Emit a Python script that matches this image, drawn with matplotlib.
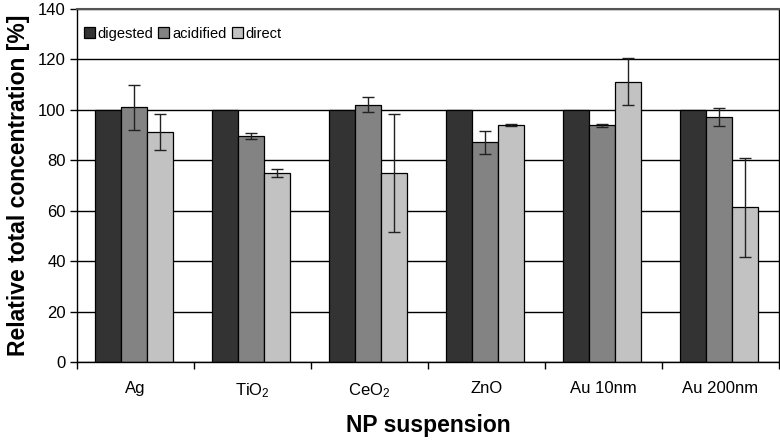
import matplotlib
matplotlib.use("Agg")
import matplotlib.pyplot as plt
import numpy as np

plt.rcParams['font.family'] = ['Liberation Sans', 'DejaVu Sans']
plt.rcParams['mathtext.fontset'] = 'custom'
plt.rcParams['mathtext.rm'] = 'Liberation Sans'
plt.rcParams['mathtext.it'] = 'Liberation Sans'

categories = ['Ag', 'TiO$_2$', 'CeO$_2$', 'ZnO', 'Au 10nm', 'Au 200nm']
series = ['digested', 'acidified', 'direct']
digested = [100, 100, 100, 100, 100, 100]
acidified = [101.0, 89.8, 102.0, 87.2, 93.8, 97.2]
direct = [91.2, 75.1, 75.0, 94.0, 111.2, 61.3]
digested_err = [0, 0, 0, 0, 0, 0]
acidified_err = [9.0, 1.2, 3.0, 4.6, 0.5, 3.6]
direct_err = [7.0, 1.6, 23.5, 0.5, 9.4, 19.6]
colors = ['#333333', '#838383', '#c2c2c2']

fig = plt.figure(figsize=(7.8, 4.4), dpi=100)
ax = fig.add_axes([77/780, 1-362/440, 702/780, 353/440])

x = np.arange(len(categories))
w = 0.222
vals = [digested, acidified, direct]
errs = [digested_err, acidified_err, direct_err]
for i, (v, e, c, s) in enumerate(zip(vals, errs, colors, series)):
    pos = x + (i - 1) * w - 0.015
    ax.bar(pos, v, width=w, color=c, edgecolor='black', linewidth=0.9, label=s, zorder=2)
    if i > 0:
        ax.errorbar(pos, v, yerr=e, fmt='none', ecolor='#222222', elinewidth=1.0,
                    capsize=4, capthick=1.0, zorder=3)

ax.set_xlim(-0.5, len(categories) - 0.5)
ax.set_ylim(0, 140)
ax.set_yticks(np.arange(0, 141, 20))
ax.yaxis.grid(True, color='black', linewidth=1.0, zorder=0)
ax.set_axisbelow(True)
ax.set_xticks(x)
ax.set_xticklabels(categories, fontsize=12)
ax.set_xticks(np.arange(-0.5, len(categories), 1), minor=True)
ax.tick_params(axis='x', which='major', length=0, pad=14)
ax.tick_params(axis='x', which='minor', length=5, width=1, direction='out')
ax.tick_params(axis='y', labelsize=12, length=5, width=1, direction='out', pad=3)
for sp in ax.spines.values():
    sp.set_linewidth(1.0)
    sp.set_color('black')
ax.spines['top'].set_color('#555555')
ax.spines['top'].set_linewidth(1.5)

ax.set_ylabel('Relative total concentration [%]', fontsize=16.5, fontweight='bold', labelpad=6)
ax.set_xlabel('NP suspension', fontsize=16.5, fontweight='bold', labelpad=10)

leg = ax.legend(loc='upper left', ncol=3, frameon=False, fontsize=10.5,
                handlelength=0.75, handleheight=0.75, handletextpad=0.2,
                columnspacing=0.35, borderaxespad=0.2, bbox_to_anchor=(-0.003, 0.975))

fig.savefig('out.png', dpi=100)
